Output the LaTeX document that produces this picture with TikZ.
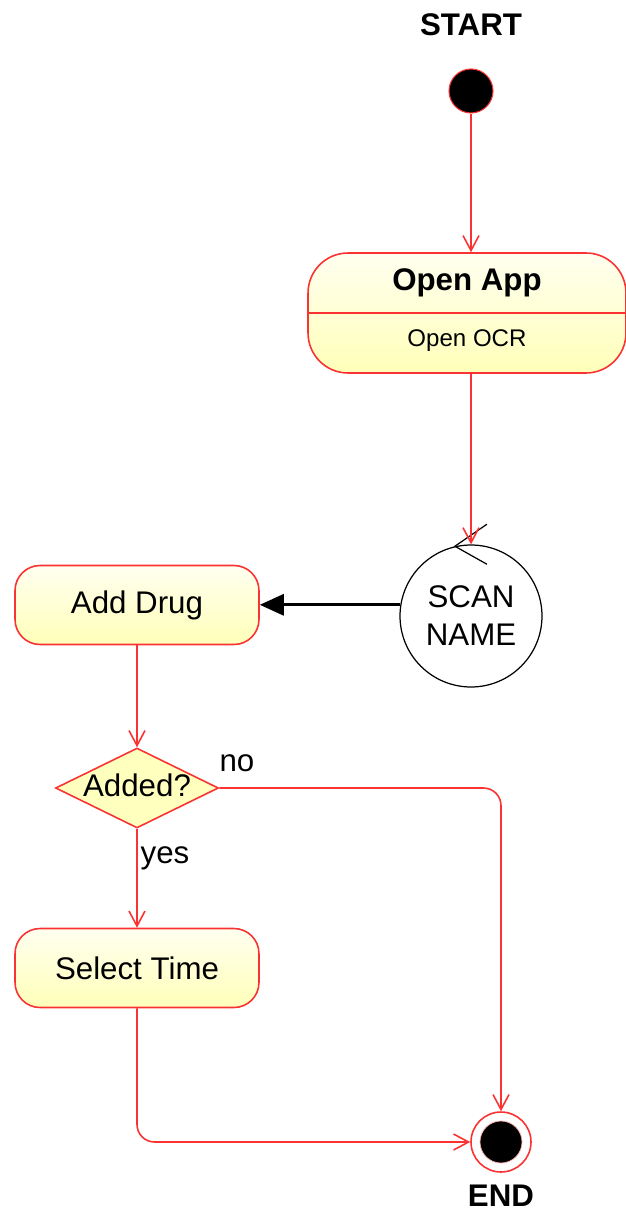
\documentclass[tikz,border=0pt]{standalone}
\usepackage{fontspec}
\setmainfont{Liberation Sans}
\usepackage{tikz}
\usetikzlibrary{arrows.meta, positioning, shapes.geometric}
\definecolor{umlred}{RGB}{250,50,50}
\definecolor{statetop}{RGB}{255,255,240}
\definecolor{statebot}{RGB}{255,255,185}
\definecolor{choicefill}{RGB}{255,255,190}

\begin{document}
\begin{tikzpicture}[x=0.02cm, y=-0.02cm,
    every node/.style={font=\fontsize{17.8}{21.6}\selectfont},
    state/.style={rectangle, rounded corners=0.5cm, draw=umlred, line width=0.9pt, top color=statetop, bottom color=statebot, minimum width=4.88cm, minimum height=1.58cm},
    flow/.style={draw=umlred, line width=0.9pt, -{Straight Barb[length=0.3cm, width=0.32cm]}},
    bold/.style={font=\fontsize{17.8}{21.6}\selectfont\bfseries}]
    \useasboundingbox (0,0) rectangle (625,1216);

    \node (startlabel) [bold] at (471,25) {START};
    \node (startdot) [circle, fill=black, draw=umlred, line width=0.6pt, minimum size=0.88cm, inner sep=0pt] at (471,91) {};
    \node (openapp) [state, rounded corners=0.8cm, minimum width=6.36cm, minimum height=2.4cm] at (467,313) {};
    \draw[umlred, line width=0.9pt] (openapp.west) -- (openapp.east);
    \node (openapptitle) [bold] at (467,283) {Open App};
    \node (openappact) [font=\fontsize{13.7}{16}\selectfont] at (467,341) {Open OCR};
    \node (scan) [circle, draw=black, line width=0.7pt, fill=white, minimum size=2.84cm, align=center, inner sep=0pt] at (471,616) {SCAN\\NAME};
    \draw[black, line width=0.7pt] ([shift={(32,-22)}]scan.103) -- (scan.103) -- ([shift={(32,18)}]scan.103);
    \node (adddrug) [state] at (137,605) {Add Drug};
    \node (added) [diamond, draw=umlred, line width=0.9pt, fill=choicefill, minimum width=3.26cm, minimum height=1.6cm, inner sep=0pt] at (137,788) {};
    \node (addedtext) at (137,785) {Added?};
    \node (selecttime) [state] at (137,968) {Select Time};
    \node (endring) [circle, draw=umlred, line width=0.9pt, fill=white, minimum size=1.2cm, inner sep=0pt] at (501,1142) {};
    \node (enddot) [circle, fill=black, draw=umlred!40, line width=0.4pt, minimum size=0.84cm, inner sep=0pt] at (endring) {};
    \node (endlabel) [bold] at (501,1196) {END};

    \draw[flow] (startdot.south) -- (startdot.south |- openapp.north);
    \draw[flow] (scan |- openapp.south) -- (scan.north);
    \draw[black, line width=1.7pt, -{Triangle[length=0.48cm, width=0.42cm]}] (scan.171) -- (scan.171 -| adddrug.east);
    \draw[flow] (adddrug.south) -- (added.north);
    \draw[flow, rounded corners=10pt] (added.east) -| (endring.north);
    \node (nolabel) at (237,763) {no};
    \draw[flow] (added.south) -- (selecttime.north);
    \node (yeslabel) at (165,858) {yes};
    \draw[flow, rounded corners=10pt] (selecttime.south) |- (endring.west);
\end{tikzpicture}
\end{document}
